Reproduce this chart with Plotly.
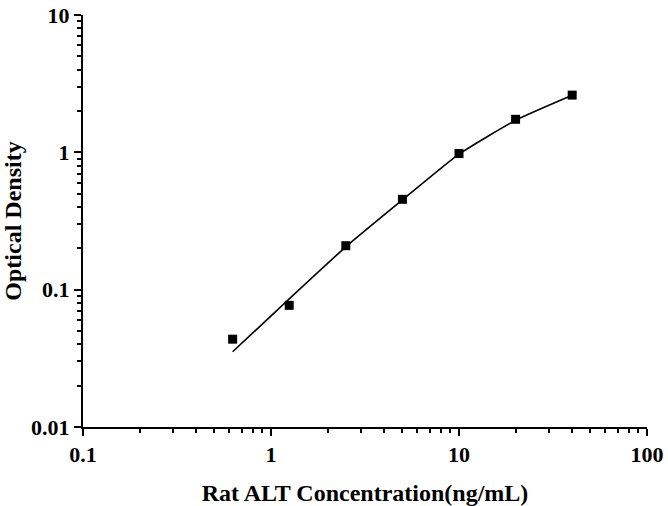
import plotly.graph_objects as go

# standard concentrations (ng/mL) and measured OD
conc = [0.625, 1.25, 2.5, 5, 10, 20, 40]
od = [0.0436, 0.0769, 0.209, 0.455, 0.98, 1.74, 2.61]

fit_conc = [0.625, 1.25, 2.5, 5, 10, 20, 40]
fit_od = [0.0353, 0.0857, 0.205, 0.45, 0.97, 1.71, 2.6]

x_ticks = [0.1, 1, 10, 100]
x_labels = ['0.1', '1', '10', '100']
y_ticks = [0.01, 0.1, 1, 10]
y_labels = ['0.01', '0.1', '1', '10']

font = 'Liberation Serif'

fig = go.Figure()
fig.add_trace(go.Scatter(x=fit_conc, y=fit_od, mode='lines',
                         line=dict(color='black', width=1.6, shape='spline', smoothing=0.5),
                         showlegend=False))
fig.add_trace(go.Scatter(x=conc, y=od, mode='markers',
                         marker=dict(symbol='square', size=9, color='black'),
                         showlegend=False))

axis_common = dict(
    type='log', showgrid=False, zeroline=False, automargin=False,
    showline=True, linecolor='black', linewidth=2,
    ticks='outside', ticklen=7, tickwidth=2, tickcolor='black',
    minor=dict(dtick='D1', ticks='outside', ticklen=4, tickwidth=1.5,
               tickcolor='black', showgrid=False),
    tickfont=dict(family=font, size=22, color='black', weight='bold'),
)

fig.update_xaxes(**axis_common, range=[-1, 2], tickvals=x_ticks, ticktext=x_labels,
                 title=dict(text='<b>Rat ALT Concentration(ng/mL)</b>', standoff=30,
                            font=dict(family=font, size=24, color='black')))
fig.update_yaxes(**axis_common, range=[-2, 1], tickvals=y_ticks, ticktext=y_labels,
                 title=dict(text='<b>Optical Density</b>', standoff=20,
                            font=dict(family=font, size=24, color='black')))

fig.update_layout(
    width=668, height=506,
    margin=dict(l=83, r=21, t=15, b=79),
    plot_bgcolor='white', paper_bgcolor='white',
)

# drop the page's default body margin so the figure sits at the window corner
fig.write_html("out.html", config={'displayModeBar': False},
               post_script="document.body.style.margin='0';")
